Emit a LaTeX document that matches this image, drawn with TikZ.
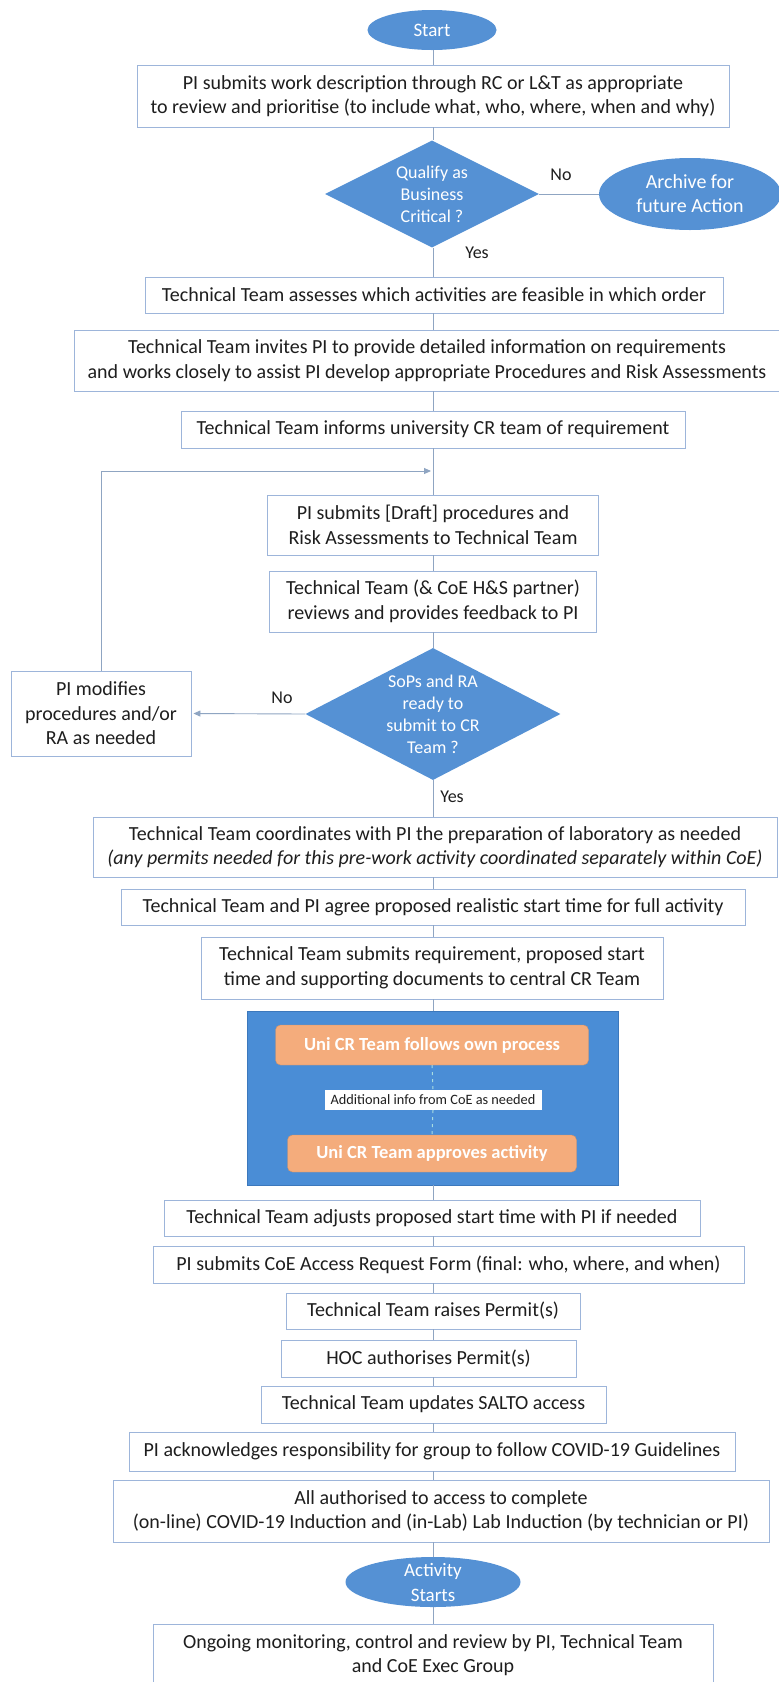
\documentclass[tikz,border=0pt]{standalone}
\usepackage{fontspec}
\setmainfont{Carlito}
\usetikzlibrary{shapes.geometric}
\usetikzlibrary{arrows.meta}
\definecolor{flowblue}{HTML}{5591D4}
\definecolor{panelblue}{HTML}{4A8DD6}
\definecolor{paneledge}{HTML}{3C78BC}
\definecolor{crorange}{HTML}{F4AC7C}
\definecolor{boxedge}{HTML}{9DB5DA}
\definecolor{linegray}{HTML}{8FA5C2}
\definecolor{textdark}{HTML}{1E1E1E}
\definecolor{dashcyan}{HTML}{A8DCE0}

\tikzset{
  procbox/.style={rectangle, draw=boxedge, line width=0.9pt, fill=white, align=center,
    inner sep=0pt, text=textdark, font=\fontsize{20}{24.5}\selectfont},
  termnode/.style={ellipse, fill=flowblue, inner sep=0pt},
  decision/.style={diamond, fill=flowblue, inner sep=0pt},
  shapetext/.style={align=center, text=white, font=\fontsize{18}{22}\selectfont},
  crstep/.style={rectangle, rounded corners=5pt, fill=crorange, draw=crorange!85!black,
    line width=0.4pt, text=white, inner sep=0pt, font=\bfseries\fontsize{18.5}{22}\selectfont},
  flowlabel/.style={text=textdark, inner sep=0pt, font=\fontsize{18}{21}\selectfont},
  conn/.style={draw=linegray, line width=0.9pt},
  arrowtip/.style={-{Triangle[length=7pt,width=6pt]}, shorten >=2pt},
}

\begin{document}
\begin{tikzpicture}[x=1pt,y=-1pt]
  \useasboundingbox[fill=white] (0,0) rectangle (779,1682);
  \coordinate (spine) at (433,0);
  \coordinate (loopjoin) at (433,471);

  % upper part
  \node[termnode, minimum width=129pt, minimum height=40pt,
    label={[shapetext, font=\fontsize{19}{22}\selectfont]center:Start}] (start) at (432,30) {};
  \node[procbox, minimum width=592pt, minimum height=62pt] (submitwork) at (433,96)
    {PI submits work description through RC or L\&T as appropriate\\
     to review and prioritise (to include what, who, where, when and why)};
  \node[decision, minimum width=214pt, minimum height=107pt,
    label={[shapetext]center:Qualify as\\Business\\Critical ?}] (qualify) at (432,194) {};
  \node[termnode, minimum width=182pt, minimum height=72pt,
    label={[shapetext, font=\fontsize{20}{24}\selectfont]center:Archive for\\future Action}] (archive) at (690,194) {};
  \node[flowlabel] (noarch) at (561,175) {No};
  \node[flowlabel] (yesqual) at (477,253) {Yes};
  \node[procbox, minimum width=578pt, minimum height=36pt] (assess) at (434,295)
    {Technical Team assesses which activities are feasible in which order};
  \node[procbox, minimum width=705pt, minimum height=61pt] (invite) at (427,360.5)
    {Technical Team invites PI to provide detailed information on requirements\\
     and works closely to assist PI develop appropriate Procedures and Risk Assessments};
  \node[procbox, minimum width=504pt, minimum height=37pt] (inform) at (433,429.5)
    {Technical Team informs university CR team of requirement};

  % review loop
  \node[procbox, minimum width=331pt, minimum height=60pt] (draft) at (433,525)
    {PI submits [Draft] procedures and\\Risk Assessments to Technical Team};
  \node[procbox, minimum width=327pt, minimum height=61pt] (review) at (433,601.5)
    {Technical Team (\& CoE H\&S partner)\\reviews and provides feedback to PI};
  \node[decision, minimum width=255pt, minimum height=132pt,
    label={[shapetext]center:SoPs and RA\\ready to\\submit to CR\\Team ?}] (ready) at (433,714) {};
  \node[procbox, minimum width=180pt, minimum height=85pt] (modify) at (101,713.5)
    {PI modifies\\procedures and/or\\RA as needed};
  \node[flowlabel] (nomod) at (282,698) {No};
  \node[flowlabel] (yesready) at (452,797) {Yes};

  % preparation
  \node[procbox, minimum width=684pt, minimum height=60pt] (prep) at (435,847)
    {Technical Team coordinates with PI the preparation of laboratory as needed\\
     \itshape (any permits needed for this pre-work activity coordinated separately within CoE)};
  \node[procbox, minimum width=624pt, minimum height=36pt] (agree) at (433,907)
    {Technical Team and PI agree proposed realistic start time for full activity};
  \node[procbox, minimum width=462pt, minimum height=62pt] (submitreq) at (432,968)
    {Technical Team submits requirement, proposed start\\time and supporting documents to central CR Team};

  % central CR team panel
  \node[rectangle, fill=panelblue, draw=paneledge, line width=0.8pt,
    minimum width=371pt, minimum height=174pt] (crpanel) at (433,1098) {};
  \node[crstep, minimum width=313pt, minimum height=40pt] (crfollow) at (432,1045)
    {Uni CR Team follows own process};
  \node[rectangle, fill=white, inner sep=0pt, text=textdark, minimum width=217pt, minimum height=20pt,
    font=\fontsize{14.3}{16}\selectfont] (crinfo) at (433,1100) {Additional info from CoE as needed};
  \node[crstep, minimum width=289pt, minimum height=37pt] (crapprove) at (432,1153.5)
    {Uni CR Team approves activity};
  \draw[draw=dashcyan, line width=1pt, dash pattern=on 3pt off 4pt]
    (crfollow.south) -- (crinfo.north) (crinfo.south) -- (crapprove.north);

  % lower part
  \node[procbox, minimum width=536pt, minimum height=36pt] (adjust) at (432,1218)
    {Technical Team adjusts proposed start time with PI if needed};
  \node[procbox, minimum width=591pt, minimum height=37pt] (accessform) at (448.5,1264.5)
    {PI submits CoE Access Request Form (final: who, where, and when)};
  \node[procbox, minimum width=294pt, minimum height=36pt] (raise) at (433,1311)
    {Technical Team raises Permit(s)};
  \node[procbox, minimum width=295pt, minimum height=37pt] (hoc) at (428.5,1358.5)
    {HOC authorises Permit(s)};
  \node[procbox, minimum width=345pt, minimum height=37pt] (salto) at (433.5,1404.5)
    {Technical Team updates SALTO access};
  \node[procbox, minimum width=606pt, minimum height=39pt] (ack) at (432,1451.5)
    {PI acknowledges responsibility for group to follow COVID-19 Guidelines};
  \node[procbox, minimum width=656pt, minimum height=62pt] (allauth) at (441,1511)
    {All authorised to access to complete\\
     (on-line) COVID-19 Induction and (in-Lab) Lab Induction (by technician or PI)};
  \node[termnode, minimum width=175pt, minimum height=50pt,
    label={[shapetext, font=\fontsize{19}{25}\selectfont]center:Activity\\Starts}] (actstart) at (433,1582) {};
  \node[procbox, minimum width=560pt, minimum height=62pt] (monitor) at (433,1655)
    {Ongoing monitoring, control and review by PI, Technical Team\\and CoE Exec Group};

  % connectors
  \foreach \a/\b in {start/submitwork, submitwork/qualify, qualify/assess, assess/invite,
      invite/inform, inform/draft, draft/review, review/ready, ready/prep, prep/agree,
      agree/submitreq, submitreq/crpanel, crpanel/adjust, adjust/accessform,
      accessform/raise, raise/hoc, hoc/salto, salto/ack, ack/allauth,
      allauth/actstart, actstart/monitor}
    \draw[conn] (\a.south -| spine) -- (\b.north -| spine);
  \draw[conn] (qualify.east) -- (archive.west);
  \draw[conn, arrowtip] (ready.west) -- (modify.east);
  \draw[conn, arrowtip] (modify.north) |- (loopjoin);
\end{tikzpicture}
\end{document}
